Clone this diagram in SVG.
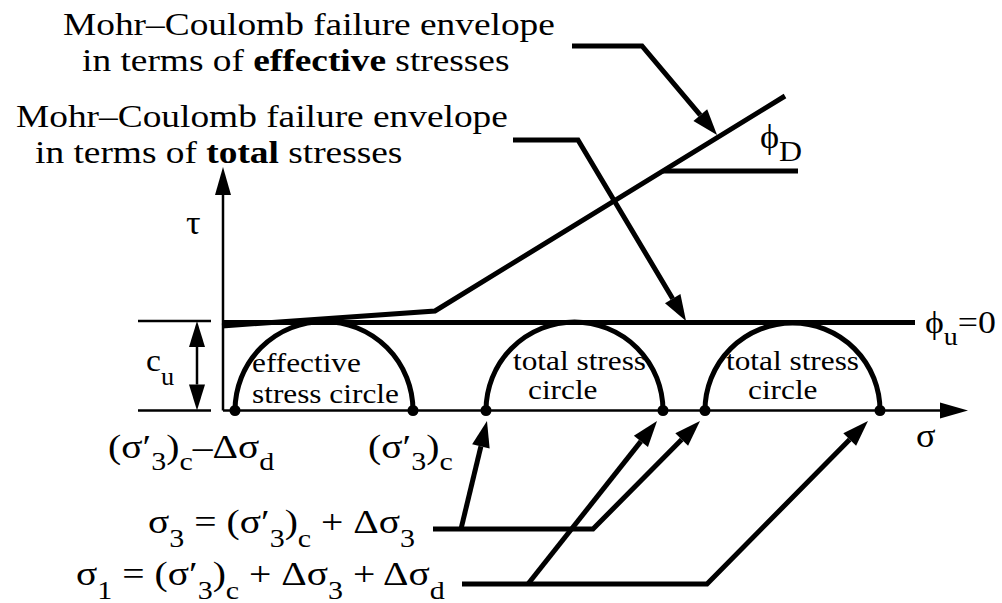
<svg xmlns="http://www.w3.org/2000/svg" width="1002" height="603" viewBox="0 0 1002 603">
<style>
.title{font-size:32.5px}
.b{font-weight:bold}
.lab{font-size:27px}
.math{font-size:33px}
.sub{font-size:25px}
.thick{fill:none;stroke:#000;stroke-width:5;stroke-linejoin:miter}
.thin{fill:none;stroke:#000;stroke-width:2.5}
.dot{fill:#000}
</style>
<defs>
<marker id="ah" markerUnits="userSpaceOnUse" markerWidth="30" markerHeight="20" refX="0" refY="9" orient="auto" overflow="visible"><path d="M0,0 L26,9 L0,18 Z" fill="#000"/></marker>
<marker id="axh" markerUnits="userSpaceOnUse" markerWidth="30" markerHeight="20" refX="0" refY="8" orient="auto" overflow="visible"><path d="M0,0 L28,8 L0,16 Z" fill="#000"/></marker>
<marker id="dh" markerUnits="userSpaceOnUse" markerWidth="30" markerHeight="20" refX="0" refY="8" orient="auto-start-reverse" overflow="visible"><path d="M0,0 L26,8 L0,16 Z" fill="#000"/></marker>
</defs>
<rect width="1002" height="603" fill="#fff"/>
<g font-family="Liberation Serif, Times New Roman, serif" fill="#000">

<g id="title-effective">
<text class="title" transform="translate(63 35) scale(1.15 1)">Mohr–Coulomb failure envelope</text>
<text class="title" transform="translate(82 71) scale(1.15 1)">in terms of <tspan class="b">effective</tspan> stresses</text>
</g>
<g id="title-total">
<text class="title" transform="translate(16 127) scale(1.15 1)">Mohr–Coulomb failure envelope</text>
<text class="title" transform="translate(35 163) scale(1.15 1)">in terms of <tspan class="b">total</tspan> stresses</text>
</g>

<g id="axes">
<path class="thin" d="M223,410.5 V195" marker-end="url(#axh)"/>
<path class="thin" d="M223,410.5 H940" marker-end="url(#axh)"/>
<text style="font-size:33px" transform="translate(186 234) scale(1.1 1)">τ</text>
<text style="font-size:33px" transform="translate(916 447) scale(1.1 1)">σ</text>
</g>

<g id="cu-dimension">
<path class="thin" d="M138,321 H211 M138,410.5 H211"/>
<path class="thin" d="M197,347 V384.5" marker-start="url(#dh)" marker-end="url(#dh)"/>
<text style="font-size:32px" transform="translate(146 371) scale(1.05 1)">c<tspan style="font-size:25px" dy="14">u</tspan></text>
</g>

<g id="envelope-effective">
<polyline class="thick" points="222,326 435,311 785,96"/>
<path class="thick" d="M663,171 H798"/>
<text style="font-size:33px" transform="translate(760 148) scale(1.1 1)">ϕ<tspan style="font-size:29px" dy="13">D</tspan></text>
</g>

<g id="envelope-total">
<path class="thick" d="M222,322.5 H915"/>
<text style="font-size:32px" transform="translate(925 333) scale(1.12 1)">ϕ<tspan style="font-size:25px" dy="12">u</tspan><tspan dy="-12">=0</tspan></text>
</g>

<g id="circle-effective">
<path class="thick" d="M235,410.5 A89,89 0 0 1 413,410.5"/>
<circle class="dot" cx="235" cy="410.5" r="5.5"/>
<circle class="dot" cx="413" cy="410.5" r="5.5"/>
<text class="lab" transform="translate(252 372) scale(1.16 1)">effective</text>
<text class="lab" transform="translate(252 403) scale(1.16 1)">stress circle</text>
</g>

<g id="circle-total-1">
<path class="thick" d="M486,410.5 A88.5,88.5 0 0 1 663,410.5"/>
<circle class="dot" cx="486" cy="410.5" r="5.5"/>
<circle class="dot" cx="663" cy="410.5" r="5.5"/>
<text class="lab" transform="translate(513 370) scale(1.16 1)">total stress</text>
<text class="lab" transform="translate(528 399) scale(1.16 1)">circle</text>
</g>

<g id="circle-total-2">
<path class="thick" d="M705,410.5 A87.5,87.5 0 0 1 880,410.5"/>
<circle class="dot" cx="705" cy="410.5" r="5.5"/>
<circle class="dot" cx="880" cy="410.5" r="5.5"/>
<text class="lab" transform="translate(726 370) scale(1.16 1)">total stress</text>
<text class="lab" transform="translate(748 399) scale(1.16 1)">circle</text>
</g>

<g id="label-s3c-minus">
<text class="math" transform="translate(108 458) scale(1.2 1)">(σ′<tspan class="sub" dy="12">3</tspan><tspan dy="-12">)</tspan><tspan class="sub" dy="12">c</tspan><tspan dy="-12">–Δσ</tspan><tspan class="sub" dy="12">d</tspan></text>
</g>
<g id="label-s3c">
<text class="math" transform="translate(368 458) scale(1.2 1)">(σ′<tspan class="sub" dy="12">3</tspan><tspan dy="-12">)</tspan><tspan class="sub" dy="12">c</tspan></text>
</g>
<g id="label-sigma3">
<text class="math" transform="translate(148 533) scale(1.2 1)">σ<tspan class="sub" dy="14">3</tspan><tspan dy="-14"> = (σ′</tspan><tspan class="sub" dy="14">3</tspan><tspan dy="-14">)</tspan><tspan class="sub" dy="14">c</tspan><tspan dy="-14"> + Δσ</tspan><tspan class="sub" dy="14">3</tspan></text>
</g>
<g id="label-sigma1">
<text class="math" transform="translate(76 585) scale(1.2 1)">σ<tspan class="sub" dy="14">1</tspan><tspan dy="-14"> = (σ′</tspan><tspan class="sub" dy="14">3</tspan><tspan dy="-14">)</tspan><tspan class="sub" dy="14">c</tspan><tspan dy="-14"> + Δσ</tspan><tspan class="sub" dy="14">3</tspan><tspan dy="-14"> + Δσ</tspan><tspan class="sub" dy="14">d</tspan></text>
</g>
</g>

<g id="connectors">
<path class="thick" d="M572,46 H642 L700.3,115.1" marker-end="url(#ah)"/>
<path class="thick" d="M513,140 H578 L672.7,298.7" marker-end="url(#ah)"/>
<path class="thick" d="M433,529 H593 L681.7,439.5" marker-end="url(#ah)"/>
<path class="thick" d="M461,529 L480.9,446.3" marker-end="url(#ah)"/>
<path class="thick" d="M462,584 H707 L849.7,439.5" marker-end="url(#ah)"/>
<path class="thick" d="M528,584 L640.9,441.4" marker-end="url(#ah)"/>
</g>
</svg>
